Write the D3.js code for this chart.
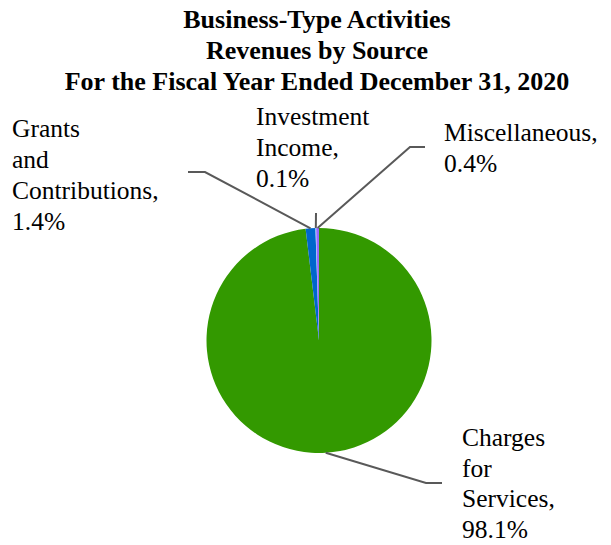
<!DOCTYPE html>
<html>
<head>
<meta charset="utf-8">
<script src="https://cdn.jsdelivr.net/npm/d3@7"></script>
<style>
  html, body { margin: 0; padding: 0; background: #fff; }
  svg { display: block; }
  text { font-family: "Liberation Serif", "Times New Roman", Times, serif; }
</style>
</head>
<body>
<svg id="chart" width="611" height="545"></svg>
<script>
// ---- data ----
const categories = ["Charges for Services", "Grants and Contributions", "Investment Income", "Miscellaneous"];
const values = [98.1, 1.4, 0.1, 0.4];
const labelLines = [
  ["Charges", "for", "Services,", "98.1%"],
  ["Grants", "and", "Contributions,", "1.4%"],
  ["Investment", "Income,", "0.1%"],
  ["Miscellaneous,", "0.4%"]
];
const colors = ["#339900", "#0066CC", "#99CCFF", "#9966FF"];
const titleLines = ["Business-Type Activities", "Revenues by Source", "For the Fiscal Year Ended December 31, 2020"];

// ---- layout ----
const svg = d3.select("#chart");
const cx = 319, cy = 340.5, r = 112.5;

// label layout: text anchor x, first baseline y, line spacing, leader elbow point and end
const labelLayout = [
  { x: 462, y: 446, dy: 30.7, elbow: [426, 483], end: [442, 483] },
  { x: 12,  y: 137, dy: 31, elbow: [205, 172], end: [188, 172] },
  { x: 256, y: 125, dy: 31, elbow: null, end: [316, 213] },
  { x: 444, y: 141, dy: 31, elbow: [410, 147], end: [425, 147] }
];

// title
svg.append("g").selectAll("text").data(titleLines).join("text")
  .attr("x", 317).attr("y", (d, i) => 28 + i * 31)
  .attr("text-anchor", "middle")
  .style("font-weight", "bold").style("font-size", "26px")
  .attr("fill", "#000")
  .text(d => d);

const pie = d3.pie().sort(null).value(d => d)(values);
const arc = d3.arc().innerRadius(0).outerRadius(r);

const g = svg.append("g").attr("transform", `translate(${cx},${cy})`);
g.selectAll("path").data(pie).join("path")
  .attr("d", arc)
  .attr("fill", (d, i) => colors[i]);

// leader lines
const lines = svg.append("g");
pie.forEach((d, i) => {
  const a = (d.startAngle + d.endAngle) / 2;
  const sx = cx + r * Math.sin(a), sy = cy - r * Math.cos(a);
  const L = labelLayout[i];
  const pts = [[sx, sy]];
  if (L.elbow) pts.push(L.elbow);
  pts.push(L.end);
  lines.append("path")
    .attr("d", d3.line()(pts))
    .attr("fill", "none")
    .attr("stroke", "#595959")
    .attr("stroke-width", 2);
});

// labels
const labels = svg.append("g");
labelLines.forEach((ls, i) => {
  const L = labelLayout[i];
  const t = labels.append("text")
    .style("font-size", "25.5px").attr("fill", "#000");
  ls.forEach((s, j) => {
    t.append("tspan").attr("x", L.x).attr("y", L.y + j * L.dy).text(s);
  });
});
</script>
</body>
</html>
